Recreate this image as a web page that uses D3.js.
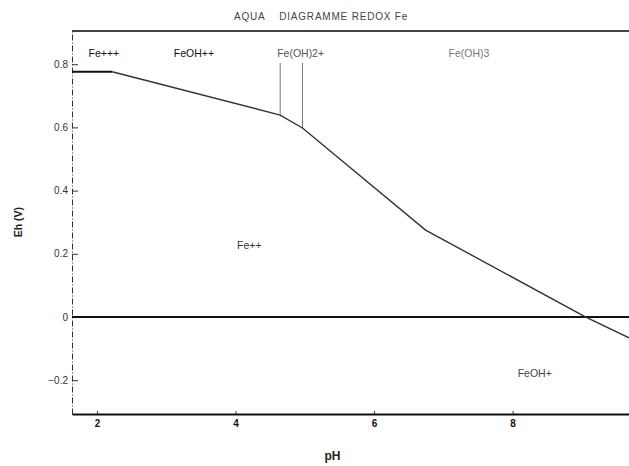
<!DOCTYPE html>
<html>
<head>
<meta charset="utf-8">
<script src="https://cdn.jsdelivr.net/npm/d3@7"></script>
<style>
  body { margin: 0; background: #fff; }
  svg text { font-family: "Liberation Sans", Arial, sans-serif; }
</style>
</head>
<body>
<div id="chart"></div>
<script>
// domain boundaries (pH, Eh in V)
const mainBoundary = [[1.64, 0.776], [2.22, 0.776], [4.645, 0.639], [4.967, 0.598], [6.744, 0.275], [9.05, 0.0], [9.68, -0.066]];
const vertLines = [[4.645, 0.639, 0.804], [4.967, 0.598, 0.804]];
const zeroLine = [[1.64, 0], [9.68, 0]];

// region labels
const labelNames = ["Fe+++", "FeOH++", "Fe(OH)2+", "Fe(OH)3", "Fe++", "FeOH+"];
const labelPH = [2.1, 3.4, 4.94, 7.37, 4.2, 8.32];
const labelEh = [0.822, 0.822, 0.822, 0.822, 0.215, -0.19];

const xTicks = [2, 4, 6, 8];
const yTicks = [-0.2, 0, 0.2, 0.4, 0.6, 0.8];

const width = 629, height = 466;
const margin = {top: 31, right: 0, bottom: 52, left: 72};

const svg = d3.select("#chart")
    .append("svg")
    .attr("width", width)
    .attr("height", height);

const x = d3.scaleLinear()
    .domain([1.64, 9.68])
    .range([margin.left, width - margin.right]);

const y = d3.scaleLinear()
    .domain([-0.307, 0.905])
    .range([height - margin.bottom, margin.top]);

// title
svg.append("text")
    .attr("x", 321)
    .attr("y", 20)
    .attr("text-anchor", "middle")
    .attr("font-size", 10)
    .attr("letter-spacing", 0.8)
    .attr("fill", "#444")
    .attr("xml:space", "preserve")
    .text("AQUA    DIAGRAMME REDOX Fe");

// top frame line
svg.append("line")
    .attr("x1", x(1.64)).attr("x2", x(9.68))
    .attr("y1", y(0.905)).attr("y2", y(0.905))
    .attr("stroke", "#444")
    .attr("stroke-width", 2);

// y axis (dash-dot)
const yAxis = svg.append("g")
    .attr("transform", `translate(${margin.left},0)`)
    .call(d3.axisLeft(y).tickValues(yTicks).tickSizeInner(-6).tickSizeOuter(0).tickPadding(4)
        .tickFormat(d => d === 0 ? "0" : d3.format(".1f")(d)));
yAxis.select(".domain")
    .attr("stroke", "#333")
    .attr("stroke-dasharray", "6,2,1,2");
yAxis.selectAll(".tick line").attr("stroke", "#333");
yAxis.selectAll(".tick text").attr("font-size", 10).attr("fill", "#333");

// x axis
const xAxis = svg.append("g")
    .attr("transform", `translate(0,${height - margin.bottom})`)
    .call(d3.axisBottom(x).tickValues(xTicks).tickSizeInner(-3).tickSizeOuter(0).tickPadding(6));
xAxis.select(".domain").attr("stroke", "#111").attr("stroke-width", 2);
xAxis.selectAll(".tick line").attr("stroke", "#333");
xAxis.selectAll(".tick text").attr("font-size", 10).attr("font-weight", "bold").attr("fill", "#111");

// axis titles
svg.append("text")
    .attr("transform", `translate(22,${y(0.3)}) rotate(-90)`)
    .attr("text-anchor", "middle")
    .attr("font-size", 10.5)
    .attr("font-weight", "bold")
    .attr("fill", "#222")
    .text("Eh (V)");

svg.append("text")
    .attr("x", x(5.4))
    .attr("y", 460)
    .attr("text-anchor", "middle")
    .attr("font-size", 12)
    .attr("font-weight", "bold")
    .attr("fill", "#222")
    .text("pH");

const line = d3.line().x(d => x(d[0])).y(d => y(d[1]));

// Eh = 0 line
svg.append("path")
    .datum(zeroLine)
    .attr("d", line)
    .attr("fill", "none")
    .attr("stroke", "#111")
    .attr("stroke-width", 2);

// vertical boundaries
svg.selectAll(".vline")
    .data(vertLines)
    .enter().append("line")
    .attr("class", "vline")
    .attr("x1", d => x(d[0])).attr("x2", d => x(d[0]))
    .attr("y1", d => y(d[1])).attr("y2", d => y(d[2]))
    .attr("stroke", "#777")
    .attr("stroke-width", 1);

// Fe+++ / Fe++ plateau
svg.append("path")
    .datum(mainBoundary.slice(0, 2))
    .attr("d", line)
    .attr("fill", "none")
    .attr("stroke", "#111")
    .attr("stroke-width", 2.2);

// main boundary
svg.append("path")
    .datum(mainBoundary.slice(1))
    .attr("d", line)
    .attr("fill", "none")
    .attr("stroke", "#333")
    .attr("stroke-width", 1.4);

// labels
const fills = ["#111", "#111", "#555", "#777", "#333", "#444"];
svg.selectAll(".lbl")
    .data(labelNames)
    .enter().append("text")
    .attr("class", "lbl")
    .attr("x", (d, i) => x(labelPH[i]))
    .attr("y", (d, i) => y(labelEh[i]))
    .attr("text-anchor", "middle")
    .attr("font-size", 10.5)
    .attr("fill", (d, i) => fills[i])
    .text(d => d);
</script>
</body>
</html>
